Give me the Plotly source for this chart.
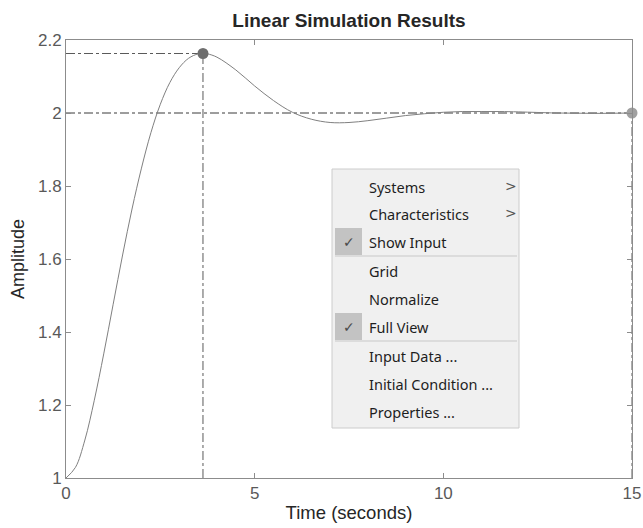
import plotly.graph_objects as go

# ---- data ----
time_s = [0, 0.25, 0.5, 0.75, 1.0, 1.25, 1.5, 1.75, 2.0, 2.25, 2.5, 2.75, 3.0, 3.25, 3.5, 3.63,
          3.75, 4.0, 4.5, 5.0, 5.5, 6.0, 6.5, 7.0, 7.5, 8.0, 8.5, 9.0, 9.5, 10.0, 10.5, 11.0,
          11.5, 12.0, 13.0, 14.0, 15.0]
response = [1.0, 1.029, 1.104, 1.213, 1.340, 1.476, 1.611, 1.737, 1.849, 1.946, 2.024, 2.083,
            2.124, 2.150, 2.162, 2.163, 2.162, 2.153, 2.118, 2.074, 2.034, 2.002, 1.983, 1.974,
            1.974, 1.979, 1.986, 1.993, 1.998, 2.002, 2.004, 2.004, 2.004, 2.003, 2.000, 1.999, 2.0]
input_t = [0, 15]
input_u = [2, 2]
peak_time = 3.63
peak_amp = 2.163
final_time = 15
final_amp = 2.0

x_ticks = [0, 5, 10, 15]
y_ticks = [1, 1.2, 1.4, 1.6, 1.8, 2, 2.2]
y_tick_text = ["1", "1.2", "1.4", "1.6", "1.8", "2", "2.2"]

menu_items = ["Systems", "Characteristics", "Show Input", "Grid", "Normalize", "Full View",
              "Input Data ...", "Initial Condition ...", "Properties ..."]
menu_checked = [False, False, True, False, False, True, False, False, False]
menu_submenu = [True, True, False, False, False, False, False, False, False]
menu_separator_after = [False, False, True, False, False, True, False, False, False]

# ---- layout geometry ----
W, H = 643, 528
L, R, T, B = 66, 632, 40, 478

def px(x):
    return (x - L) / (R - L)

def py(y):
    return (B - y) / (B - T)

fig = go.Figure()

# input (dash-dot)
fig.add_trace(go.Scatter(x=input_t, y=input_u, mode="lines",
                         line=dict(color="#3a3a3a", width=1, dash="dashdot"), hoverinfo="skip"))
# peak guides
fig.add_trace(go.Scatter(x=[0, peak_time], y=[peak_amp, peak_amp], mode="lines",
                         line=dict(color="#5a5a5a", width=1, dash="dashdot"), hoverinfo="skip"))
fig.add_trace(go.Scatter(x=[peak_time, peak_time], y=[y_ticks[0], peak_amp], mode="lines",
                         line=dict(color="#5a5a5a", width=1, dash="dashdot"), hoverinfo="skip"))
fig.add_trace(go.Scatter(x=[final_time, final_time], y=[y_ticks[0], final_amp], mode="lines",
                         line=dict(color="#5a5a5a", width=1, dash="dashdot"), hoverinfo="skip"))
# response
fig.add_trace(go.Scatter(x=time_s, y=response, mode="lines", line_shape="spline",
                         line=dict(color="#808080", width=1)))
# markers
fig.add_trace(go.Scatter(x=[peak_time], y=[peak_amp], mode="markers",
                         marker=dict(color="#6e6e6e", size=11)))
fig.add_trace(go.Scatter(x=[final_time], y=[final_amp], mode="markers",
                         marker=dict(color="#a0a0a0", size=11), cliponaxis=False))

# ---- context menu ----
shapes = []
annotations = []
mx0, mx1, my0, my1 = 332, 519, 169, 428
shapes.append(dict(type="rect", xref="paper", yref="paper", x0=px(mx0), x1=px(mx1),
                   y0=py(my1), y1=py(my0), fillcolor="#f0f0f0",
                   line=dict(color="#cccccc", width=1), layer="above"))
item_y = [187, 214, 242, 271, 299, 327, 356, 384, 412]
for i, name in enumerate(menu_items):
    yc = item_y[i]
    if menu_checked[i]:
        shapes.append(dict(type="rect", xref="paper", yref="paper", x0=px(335), x1=px(362),
                           y0=py(yc + 13), y1=py(yc - 14), fillcolor="#c3c3c3",
                           line=dict(width=0), layer="above"))
        annotations.append(dict(x=px(348.5), y=py(yc), xref="paper", yref="paper",
                                text="✓", showarrow=False, xanchor="center", yanchor="middle",
                                font=dict(family="DejaVu Sans", size=14, color="#4a4a4a")))
    if menu_separator_after[i]:
        shapes.append(dict(type="line", xref="paper", yref="paper", x0=px(335), x1=px(517),
                           y0=py(yc + 14), y1=py(yc + 14),
                           line=dict(color="#c8c8c8", width=1), layer="above"))
    annotations.append(dict(x=px(367), y=py(yc), xref="paper", yref="paper", text=name,
                            showarrow=False, xanchor="left", yanchor="middle",
                            font=dict(family="Noto Sans", size=14.5, color="#1e1e1e")))
    if menu_submenu[i]:
        annotations.append(dict(x=px(511), y=py(yc - 1), xref="paper", yref="paper", text="&gt;",
                                showarrow=False, xanchor="center", yanchor="middle",
                                font=dict(family="DejaVu Sans", size=14, color="#555555")))

axis_common = dict(showgrid=False, zeroline=False, showline=True, linecolor="#8c8c8c",
                   linewidth=1, mirror="ticks", ticks="inside", ticklen=5, tickcolor="#8c8c8c",
                   automargin=False,
                   tickfont=dict(family="Liberation Sans", size=17, color="#595959"))

fig.update_layout(
    width=W, height=H,
    margin=dict(l=L, r=W - R, t=T, b=H - B),
    paper_bgcolor="white", plot_bgcolor="white",
    showlegend=False,
    title=dict(text="<b>Linear Simulation Results</b>", x=(L + R) / 2 / W, xanchor="center",
               y=1 - 20 / H, yanchor="middle", automargin=False,
               font=dict(family="Liberation Sans", size=19, color="#262626")),
    xaxis=dict(range=[0, 15], tickvals=x_ticks,
               title=dict(text="Time (seconds)", standoff=3,
                          font=dict(family="Liberation Sans", size=18.5, color="#262626")),
               **axis_common),
    yaxis=dict(range=[1, 2.2], tickvals=y_ticks, ticktext=y_tick_text,
               title=dict(text="Amplitude", standoff=8,
                          font=dict(family="Liberation Sans", size=18, color="#262626")),
               **axis_common),
    shapes=shapes,
    annotations=annotations,
)

fig.write_html("out.html")
